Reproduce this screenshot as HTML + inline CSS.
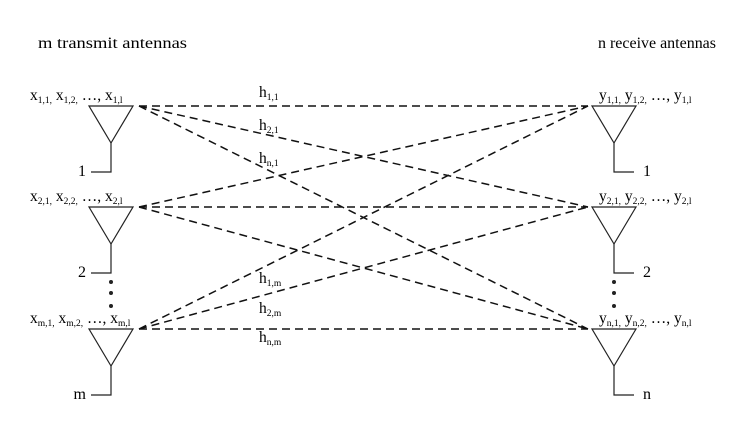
<!DOCTYPE html>
<html><head><meta charset="utf-8"><style>
html,body{margin:0;padding:0;background:#fff;}
svg{display:block;font-family:"Liberation Serif",serif;}
</style></head><body>
<svg id="d" width="734" height="429" viewBox="0 0 734 429">
<text x="38" y="48" font-size="15.5" textLength="149" lengthAdjust="spacingAndGlyphs">m transmit antennas</text>
<text x="598" y="48" font-size="15.5" textLength="118" lengthAdjust="spacingAndGlyphs">n receive antennas</text>
<g id="links" stroke="#111" stroke-width="1.5" stroke-dasharray="8,5" fill="none"></g>
<g id="ants"></g>
</svg>
<script>
const txY=[106,207,329];
const rxY=[106,207,329];
const txIds=['1','2','m'];
const rxIds=['1','2','n'];
const hLabels=[['1,1',97],['2,1',130],['n,1',163],['1,m',283],['2,m',313],['n,m',342]];
const NS='http://www.w3.org/2000/svg';
const svg=document.getElementById('d');
const links=document.getElementById('links');
const ants=document.getElementById('ants');
function mk(t,a,p){const e=document.createElementNS(NS,t);for(const k in a)e.setAttribute(k,a[k]);(p||svg).appendChild(e);return e;}
txY.forEach((ty,i)=>{rxY.forEach((ry,j)=>{
 const l=mk('line',{x1:139,y1:ty,x2:588,y2:ry},links);
 
 
});});
function antenna(cx,top,side,id,lbl,sym){
 const g=mk('g',{},ants);
 
 
 mk('path',{d:`M${cx-22},${top} L${cx+22},${top} L${cx},${top+37} Z`,fill:'none',stroke:'#222','stroke-width':1.2},g);
 const sx=side<0?cx-20:cx+20;
 mk('path',{d:`M${cx},${top+37} L${cx},${top+66} L${sx},${top+66}`,fill:'none',stroke:'#222','stroke-width':1.2},g);
 const n=mk('text',{x:side<0?cx-20-5:cx+29,y:top+70,'font-size':16,'text-anchor':side<0?'end':'start'},g);
 n.textContent=id;
 const t=mk('text',{'font-size':15.5,x:side<0?30:599,y:top-6},g);
 
 
 t.innerHTML=`${sym}<tspan font-size="9.5" dy="3">${lbl},1,</tspan><tspan dy="-3"> ${sym}</tspan><tspan font-size="9.5" dy="3">${lbl},2,</tspan><tspan dy="-3"> …, ${sym}</tspan><tspan font-size="9.5" dy="3">${lbl},l</tspan>`;
}
txY.forEach((y,i)=>antenna(111,y,-1,txIds[i],txIds[i],'x'));
rxY.forEach((y,i)=>antenna(614,y,1,rxIds[i],rxIds[i],'y'));
[111,614].forEach(x=>[282,293,306].forEach(y=>{const c=mk('circle',{cx:x,cy:y,r:2,fill:'#222'});
 
 }));
hLabels.forEach(h=>{const t=mk('text',{x:259,y:h[1],'font-size':15.5});
 
 
 t.innerHTML=`h<tspan font-size="9.5" dy="3">${h[0]}</tspan>`;});
</script>
</body></html>
